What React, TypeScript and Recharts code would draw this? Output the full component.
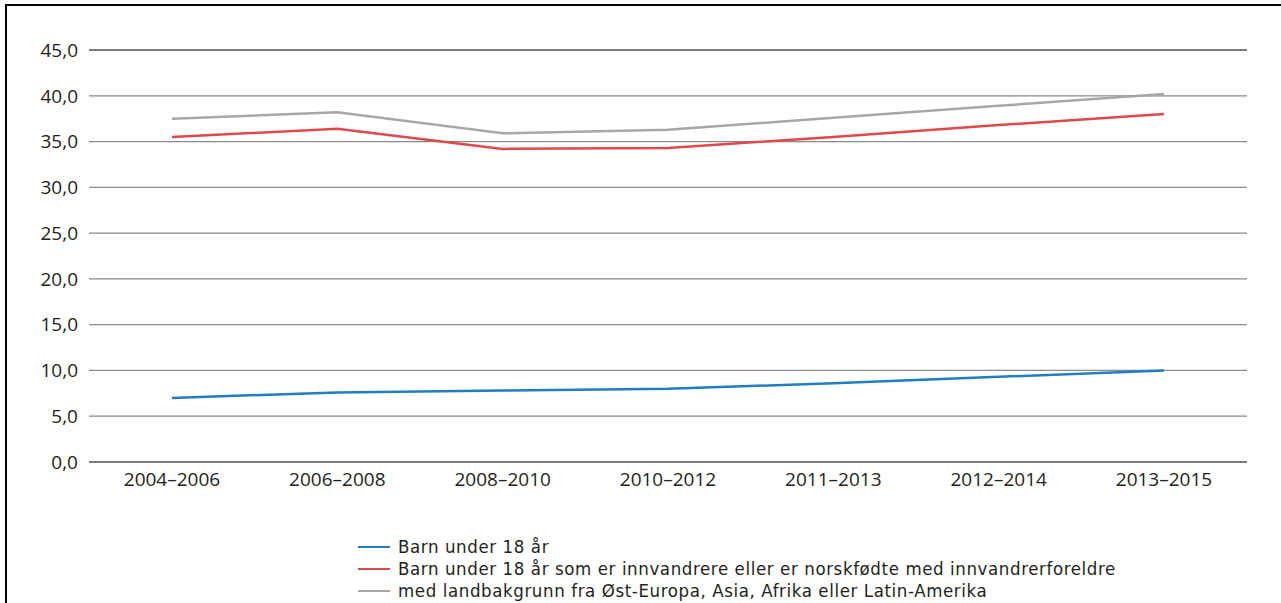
import { LineChart, Line, XAxis, YAxis, CartesianGrid, ReferenceLine } from 'recharts';

const periods = ['2004–2006', '2006–2008', '2008–2010', '2010–2012', '2011–2013', '2012–2014', '2013–2015'];
const barnUnder18 = [7.0, 7.6, 7.8, 8.0, 8.6, 9.3, 10.0];
const innvandrerBarn = [35.5, 36.4, 34.2, 34.3, 35.5, 36.8, 38.0];
const landbakgrunn = [37.5, 38.2, 35.9, 36.3, 37.6, 38.9, 40.2];
const yTicks = [0, 5, 10, 15, 20, 25, 30, 35, 40, 45];

const series = [
  { key: 'barn', label: 'Barn under 18 år', color: '#1f7fc0' },
  { key: 'innv', label: 'Barn under 18 år som er innvandrere eller er norskfødte med innvandrerforeldre', color: '#e0484d' },
  { key: 'land', label: 'med landbakgrunn fra Øst-Europa, Asia, Afrika eller Latin-Amerika', color: '#a7a7ab' },
];

const chartData = periods.map((p, i) => ({
  period: p,
  barn: barnUnder18[i],
  innv: innvandrerBarn[i],
  land: landbakgrunn[i],
}));

const font = '"Open Sans", "Noto Sans", sans-serif';
const legendFont = '"DejaVu Sans Condensed", "Open Sans", sans-serif';
const textColor = '#231f20';

export default function App() {
  return (
    <div style={{ position: 'fixed', left: 0, top: 0, width: 1281, height: 603, overflow: 'hidden', background: '#fff', fontFamily: font }}>
      {/* frame, runs off the right and bottom edge like the source */}
      <div style={{ position: 'absolute', left: 5, top: 4, width: 1300, height: 700, border: '2px solid #000' }} />

      <div style={{ position: 'absolute', left: 0, top: 0 }}>
        <LineChart width={1281} height={502} data={chartData} margin={{ top: 50, right: 34, left: 0, bottom: 0 }}>
          <CartesianGrid vertical={false} stroke="#8a8a8a" strokeWidth={1.2} />
          <XAxis
            dataKey="period"
            axisLine={false}
            tickLine={false}
            height={40}
            tickMargin={5}
            padding={{ left: 83, right: 83 }}
            tick={{ fill: textColor, fontSize: 19, fontFamily: font }}
            interval={0}
          />
          <YAxis
            width={89}
            domain={[0, 45]}
            ticks={yTicks}
            interval={0}
            axisLine={false}
            tickLine={false}
            tickMargin={5}
            tickFormatter={(v: number) => v.toFixed(1).replace('.', ',')}
            tick={{ fill: textColor, fontSize: 19, fontFamily: font }}
          />
          <ReferenceLine y={0} stroke="#333" strokeWidth={1.2} />
          <ReferenceLine y={45} stroke="#333" strokeWidth={1.2} />
          {series.map((s) => (
            <Line
              key={s.key}
              type="linear"
              dataKey={s.key}
              stroke={s.color}
              strokeWidth={2.5}
              dot={false}
              activeDot={false}
              isAnimationActive={false}
            />
          ))}
        </LineChart>
      </div>

      <div style={{ position: 'absolute', left: 358, top: 536 }}>
        {series.map((s) => (
          <div key={s.key} style={{ display: 'flex', alignItems: 'center', height: 22 }}>
            <span style={{ display: 'block', width: 32, height: 2.5, background: s.color, marginRight: 8, flex: 'none' }} />
            <span style={{ fontSize: 18.5, letterSpacing: 0.6, lineHeight: '22px', fontFamily: legendFont, color: textColor, whiteSpace: 'nowrap' }}>{s.label}</span>
          </div>
        ))}
      </div>
    </div>
  );
}
